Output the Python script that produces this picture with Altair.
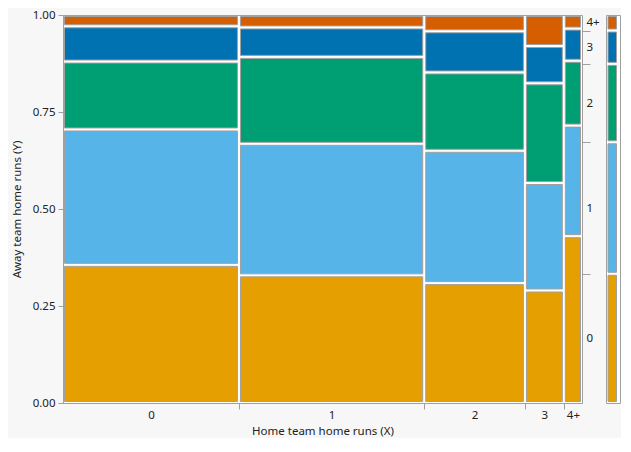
import altair as alt
import pandas as pd

# ---- data ----
x_labels = ["0", "1", "2", "3", "4+"]            # home team home runs (columns)
x_widths = [0.339, 0.357, 0.194, 0.075, 0.035]   # column share of games
y_labels = ["0", "1", "2", "3", "4+"]            # away team home runs (stack, bottom -> top)
y_colors = ["#E69F00", "#56B4E9", "#009E73", "#0072B2", "#D55E00"]
share_x0 = [0.356, 0.349, 0.175, 0.091, 0.029]
share_x1 = [0.329, 0.339, 0.224, 0.076, 0.032]
share_x2 = [0.309, 0.341, 0.202, 0.106, 0.042]
share_x3 = [0.290, 0.277, 0.257, 0.096, 0.080]
share_x4 = [0.430, 0.285, 0.167, 0.083, 0.035]
share_all = [0.333, 0.339, 0.202, 0.086, 0.040]
y_ticks = [0.0, 0.25, 0.5, 0.75, 1.0]

shares = [share_x0, share_x1, share_x2, share_x3, share_x4]

# ---- build the mosaic table ----
rows = []
left = 0.0
x_centers, x_bounds = [], []
for xi, (xl, w) in enumerate(zip(x_labels, x_widths)):
    right = left + w
    x_centers.append(round((left + right) / 2, 4))
    if xi < len(x_labels) - 1:
        x_bounds.append(round(right, 4))
    bottom = 0.0
    for yl, s in zip(y_labels, shares[xi]):
        top = bottom + s
        rows.append({"home": xl, "away": yl, "x0": left, "x1": right,
                     "y0": bottom, "y1": top})
        bottom = top
    left = right
df = pd.DataFrame(rows)

mrows = []
bottom = 0.0
m_mids, m_bounds = [], []
for i, (yl, s) in enumerate(zip(y_labels, share_all)):
    top = bottom + s
    mrows.append({"away": yl, "y0": bottom, "y1": top, "mid": (bottom + top) / 2,
                  "mx0": 0, "mx1": 1})
    m_mids.append(round((bottom + top) / 2, 4))
    if i < len(y_labels) - 1:
        m_bounds.append(round(top, 4))
    bottom = top
mdf = pd.DataFrame(mrows)


def label_expr(vals, labels):
    expr = "''"
    for v, l in reversed(list(zip(vals, labels))):
        expr = f"abs(datum.value - {v}) < 0.0005 ? '{l}' : ({expr})"
    return expr


def is_any(vals):
    return " || ".join(f"abs(datum.value - {v}) < 0.0005" for v in vals)


FONT = "Noto Sans"
GRAY = "#a0a0a0"
TXT = "#222222"

color_scale = alt.Scale(domain=y_labels, range=y_colors)
yscale = alt.Scale(domain=[0, 1], nice=False, zero=False)
xscale = alt.Scale(domain=[0, 1], nice=False, zero=False)

cells = alt.Chart(df).mark_rect(
    stroke=GRAY, strokeWidth=1,
    xOffset=1.5, x2Offset=-1.5, yOffset=1.5, y2Offset=-1.5,
).encode(
    x=alt.X("x0:Q", scale=xscale, title="Home team home runs (X)",
            axis=alt.Axis(values=x_centers + x_bounds,
                          labelExpr=label_expr(x_centers, x_labels),
                          tickOpacity={"condition": {"test": is_any(x_centers), "value": 0}, "value": 1},
                          tickSize=6, labelPadding=0, titlePadding=5,
                          labelFlush=False, labelOverlap=False)),
    x2="x1:Q",
    y=alt.Y("y1:Q", scale=yscale, title="Away team home runs (Y)",
            axis=alt.Axis(values=y_ticks, format=".2f", tickSize=5, labelPadding=3,
                          titlePadding=10, labelFlush=False)),
    y2="y0:Q",
    color=alt.Color("away:N", scale=color_scale, legend=None),
)

right_axis = alt.Chart(mdf).mark_point(opacity=0).encode(
    y=alt.Y("mid:Q", scale=yscale, title=None,
            axis=alt.Axis(orient="right", values=m_mids + m_bounds,
                          labelExpr=label_expr(m_mids, y_labels),
                          tickOpacity={"condition": {"test": is_any(m_mids), "value": 0}, "value": 1},
                          tickSize=8, labelPadding=-4, domain=False,
                          labelFlush=False, labelOverlap=False)),
)

main = alt.layer(cells, right_axis).resolve_axis(y="independent").properties(
    width=519, height=388)

marg = alt.Chart(mdf).mark_rect(
    stroke=GRAY, strokeWidth=1,
    xOffset=2, x2Offset=-3.5, yOffset=1.5, y2Offset=-1.5,
).encode(
    x=alt.X("mx0:Q", scale=xscale, axis=None),
    x2="mx1:Q",
    y=alt.Y("y1:Q", scale=yscale, axis=None),
    y2="y0:Q",
    color=alt.Color("away:N", scale=color_scale, legend=None),
).properties(width=14, height=388)

chart = alt.hconcat(main, marg, spacing=5).properties(
    padding={"left": 2, "top": 0, "right": 0, "bottom": 0},
    background="#f7f7f7",
).configure_view(
    stroke=GRAY, fill="white"
).configure_axis(
    labelFont=FONT, titleFont=FONT, labelFontSize=11.5, titleFontSize=11.5,
    labelColor=TXT, titleColor=TXT, titleFontWeight="normal",
    domainColor=GRAY, tickColor=GRAY, grid=False,
)

chart.save("out.html", embed_options={"renderer": "svg", "actions": False})
